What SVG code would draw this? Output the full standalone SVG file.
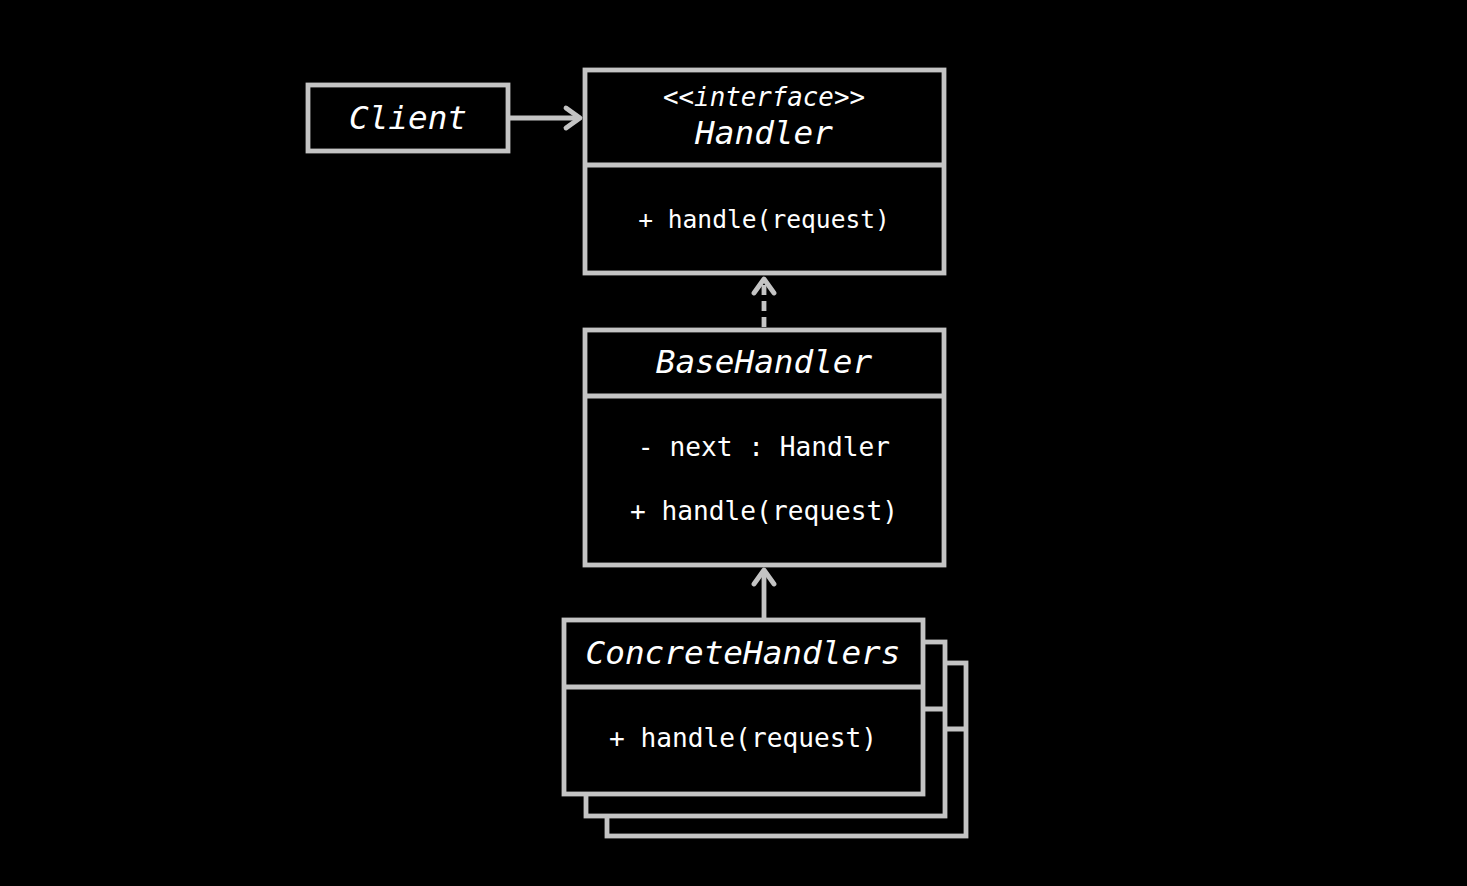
<svg xmlns="http://www.w3.org/2000/svg" width="1467" height="886" viewBox="0 0 1467 886">
<style>
.box{fill:#000;stroke:#c4c4c4;stroke-width:4.8}
.div{stroke:#c4c4c4;stroke-width:4.8}
.t{font-family:"DejaVu Sans Mono","Liberation Mono",monospace;fill:#fff;text-anchor:middle;dominant-baseline:central}
.title{font-style:italic;font-size:32.7px}
.stereo{font-style:italic;font-size:25.8px}
.m{font-size:26.2px}
.conn{fill:none;stroke:#c4c4c4;stroke-width:4.8}
</style>
<defs>
<marker id="open" markerUnits="userSpaceOnUse" markerWidth="30" markerHeight="30" viewBox="-20 -15 30 30" refX="0" refY="0" orient="auto">
<path d="M -14 -10 L 0 0 L -14 10" fill="none" stroke="#c4c4c4" stroke-width="4.8" stroke-linecap="round" stroke-linejoin="round" stroke-dasharray="none"/>
</marker>
</defs>
<rect width="1467" height="886" fill="#000"/>
<g id="connectors">
<line class="conn" x1="510" y1="118" x2="580" y2="118" marker-end="url(#open)"/>
<line class="conn" x1="764" y1="327" x2="764" y2="279" stroke-dasharray="10 6" marker-end="url(#open)"/>
<line class="conn" x1="764" y1="618" x2="764" y2="570" marker-end="url(#open)"/>
</g>
<g id="client">
<rect class="box" x="308" y="85" width="200" height="66"/>
<text class="t title" x="408" y="118">Client</text>
</g>
<g id="handler">
<rect class="box" x="585" y="70" width="359" height="203"/>
<line class="div" x1="585" y1="165" x2="944" y2="165"/>
<text class="t stereo" x="764" y="97">&lt;&lt;interface&gt;&gt;</text>
<text class="t title" x="764" y="133">Handler</text>
<text class="t m" x="764" y="219" style="font-size:24.6px">+ handle(request)</text>
</g>
<g id="basehandler">
<rect class="box" x="585" y="330" width="359" height="235"/>
<line class="div" x1="585" y1="396" x2="944" y2="396"/>
<text class="t title" x="764" y="362">BaseHandler</text>
<text class="t m" x="764" y="447">- next : Handler</text>
<text class="t m" x="764" y="511">+ handle(request)</text>
</g>
<g id="concretehandlers">
<rect class="box" x="607" y="663" width="359" height="173"/>
<line class="div" x1="607" y1="729" x2="966" y2="729"/>
<rect class="box" x="586" y="642" width="359" height="174"/>
<line class="div" x1="586" y1="709" x2="945" y2="709"/>
<rect class="box" x="564" y="620" width="359" height="174"/>
<line class="div" x1="564" y1="687" x2="923" y2="687"/>
<text class="t title" x="743" y="653">ConcreteHandlers</text>
<text class="t m" x="743" y="738">+ handle(request)</text>
</g>
</svg>
